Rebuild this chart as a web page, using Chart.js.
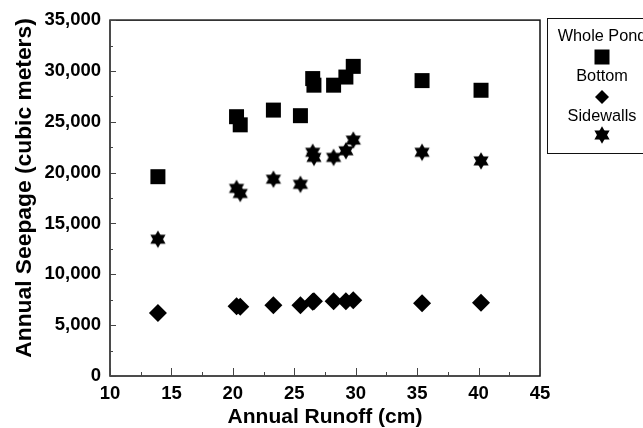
<!DOCTYPE html>
<html>
<head>
<meta charset="utf-8">
<script src="https://cdn.jsdelivr.net/npm/chart.js@4.4.1/dist/chart.umd.min.js"></script>
<style>
  html, body { margin: 0; padding: 0; background: #fff; }
  #wrap { width: 643px; height: 428px; }
</style>
</head>
<body>
<div id="wrap"><canvas id="chartSeepage" width="643" height="428"></canvas></div>
<script>
// valores
const runoff = [13.9, 20.3, 20.6, 23.3, 25.5, 26.5, 26.6, 28.2, 29.2, 29.8, 35.4, 40.2];
const wholePond = [19600, 25500, 24700, 26150, 25600, 29250, 28600, 28600, 29400, 30450, 29050, 28100];
const bottom = [6200, 6850, 6800, 6950, 6950, 7300, 7350, 7350, 7350, 7450, 7150, 7200];
const sidewalls = [13450, 18450, 17950, 19350, 18850, 22000, 21500, 21500, 22150, 23200, 22000, 21150];
const seriesNames = ['Whole Pond', 'Bottom', 'Sidewalls'];
const yTitle = 'Annual Seepage (cubic meters)';

// estrela de seis pontas (hexagrama)
function makeStar(R) {
  const c = document.createElement('canvas');
  const s = Math.ceil(R * 2 + 2);
  c.width = s; c.height = s;
  const g = c.getContext('2d');
  g.fillStyle = '#000';
  const cx = s / 2, cy = s / 2;
  [-90, 90].forEach(a0 => {
    g.beginPath();
    for (let i = 0; i < 3; i++) {
      const a = (a0 + i * 120) * Math.PI / 180;
      const px = cx + R * Math.cos(a), py = cy + R * Math.sin(a);
      if (i === 0) g.moveTo(px, py); else g.lineTo(px, py);
    }
    g.closePath();
    g.fill();
  });
  return c;
}
const star = makeStar(8.8);

const pts = arr => arr.map((v, i) => ({ x: runoff[i], y: v }));

const boxAndTicks = {
  id: 'boxAndTicks',
  afterDraw(chart) {
    const { ctx, chartArea: a, scales } = chart;
    ctx.save();
    ctx.strokeStyle = '#111';
    ctx.lineWidth = 1.5;
    ctx.strokeRect(a.left, a.top, a.right - a.left, a.bottom - a.top);
    ctx.lineWidth = 1;
    ctx.strokeStyle = '#444';
    ctx.beginPath();
    for (let v = 0; v <= 35000; v += 2500) {
      const y = Math.round(scales.y.getPixelForValue(v)) + 0.5;
      const len = v % 5000 === 0 ? 6 : 3;
      ctx.moveTo(a.left, y); ctx.lineTo(a.left + len, y);
    }
    for (let v = 10; v <= 45; v += 2.5) {
      const x = Math.round(scales.x.getPixelForValue(v)) + 0.5;
      const len = v % 5 === 0 ? 8 : 4;
      ctx.moveTo(x, a.bottom); ctx.lineTo(x, a.bottom - len);
    }
    ctx.stroke();

    // titulo do eixo y
    ctx.fillStyle = '#000';
    ctx.save();
    ctx.translate(25, 188);
    ctx.rotate(-Math.PI / 2);
    ctx.font = 'bold 22.8px "Liberation Sans", Arial, sans-serif';
    ctx.textAlign = 'center';
    ctx.textBaseline = 'middle';
    ctx.fillText(yTitle, 0, 0);
    ctx.restore();

    // legenda
    const lx = 547, ly = 18, cx = 602;
    ctx.strokeStyle = '#111';
    ctx.lineWidth = 1;
    ctx.strokeRect(lx + 0.5, ly + 0.5, 120, 135);
    ctx.font = '16.3px "Liberation Sans", Arial, sans-serif';
    ctx.textAlign = 'center';
    ctx.textBaseline = 'middle';
    seriesNames.forEach((name, i) => {
      const ty = 37 + i * 40;
      ctx.fillText(name, cx, ty);
      const my = ty + 20;
      if (i === 0) {
        ctx.fillRect(cx - 7.5, my - 7.5, 15, 15);
      } else if (i === 1) {
        ctx.beginPath();
        ctx.moveTo(cx, my - 7); ctx.lineTo(cx + 7, my);
        ctx.lineTo(cx, my + 7); ctx.lineTo(cx - 7, my);
        ctx.closePath(); ctx.fill();
      } else {
        ctx.drawImage(star, cx - star.width / 2, my - 2 - star.height / 2);
      }
    });
    ctx.restore();
  }
};

const tickFont = { family: '"Liberation Sans", Arial, sans-serif', size: 18.5, weight: 'bold' };
const titleFont = { family: '"Liberation Sans", Arial, sans-serif', size: 21, weight: 'bold', lineHeight: 1 };

new Chart(document.getElementById('chartSeepage').getContext('2d'), {
  type: 'scatter',
  data: {
    datasets: [
      { label: seriesNames[0], data: pts(wholePond), pointStyle: 'rect', pointRadius: 10.6,
        backgroundColor: '#000', borderColor: '#000', borderWidth: 0 },
      { label: seriesNames[1], data: pts(bottom), pointStyle: 'rectRot', pointRadius: 9,
        backgroundColor: '#000', borderColor: '#000', borderWidth: 0 },
      { label: seriesNames[2], data: pts(sidewalls), pointStyle: star,
        backgroundColor: '#000', borderColor: '#000', borderWidth: 0 }
    ]
  },
  options: {
    responsive: false,
    animation: false,
    layout: { padding: { top: 19, right: 103, left: 0, bottom: 0 } },
    plugins: { legend: { display: false }, tooltip: { enabled: false } },
    scales: {
      x: {
        type: 'linear', min: 10, max: 45,
        ticks: { stepSize: 5, color: '#000', font: tickFont, padding: 7, maxRotation: 0 },
        grid: { display: false, drawTicks: false },
        border: { display: false },
        title: { display: true, text: 'Annual Runoff (cm)', color: '#000', font: titleFont, padding: 0 },
        afterFit(s) { s.height = 52; }
      },
      y: {
        type: 'linear', min: 0, max: 35000,
        ticks: { stepSize: 5000, color: '#000', font: tickFont, padding: 9,
          callback: v => v.toLocaleString('en-US') },
        grid: { display: false, drawTicks: false },
        border: { display: false },
        afterFit(s) { s.width = 110; }
      }
    }
  },
  plugins: [boxAndTicks]
});
</script>
</body>
</html>
